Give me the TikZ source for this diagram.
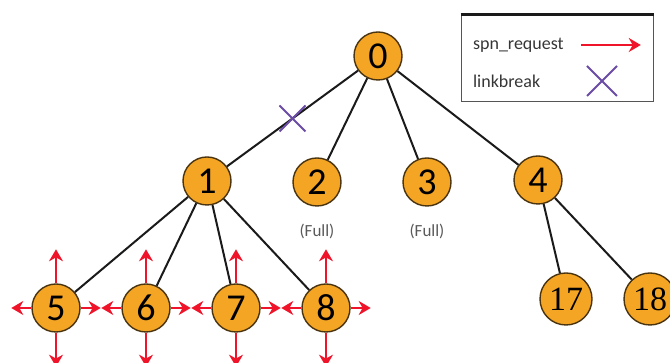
\documentclass[tikz,border=0pt]{standalone}
\usepackage{fontspec}
\setmainfont{Carlito}
\newfontfamily\leafdigits{Liberation Serif}
\usetikzlibrary{arrows.meta,positioning,shapes.misc}
\definecolor{nodefill}{HTML}{F5A524}
\definecolor{nodedraw}{HTML}{4A3410}
\definecolor{edgecolor}{HTML}{1A1A1A}
\definecolor{requestcolor}{HTML}{F0142A}
\definecolor{breakcolor}{HTML}{6A4CA6}
\definecolor{notecolor}{HTML}{5A5A5A}
\definecolor{framecolor}{HTML}{555555}
\tikzset{
  >=Stealth,
  tree node/.style={
    circle,
    draw=nodedraw,
    fill=nodefill,
    line width=0.7pt,
    minimum size=24pt,
    inner sep=0pt,
    font=\fontsize{19}{19}\selectfont
  },
  leaf node/.style={
    tree node,
    minimum size=26pt,
    font=\leafdigits\fontsize{17}{17}\selectfont
  },
  tree edge/.style={
    draw=edgecolor,
    line width=1pt
  },
  request/.style={
    draw=requestcolor,
    line width=1.4pt,
    -{Stealth[length=6pt,width=7pt]}
  },
  link break/.style={
    cross out,
    draw=breakcolor,
    line width=1pt,
    minimum size=12pt,
    inner sep=0pt
  },
  full note/.style={
    font=\fontsize{8.5}{8.5}\selectfont,
    text=notecolor
  },
  legend box/.style={
    draw=framecolor,
    line width=0.5pt,
    minimum width=96pt,
    minimum height=43.5pt,
    inner sep=0pt
  },
  legend text/.style={
    font=\fontsize{9}{9}\selectfont,
    text=notecolor!60!black,
    anchor=west
  }
}
\newcommand{\sendrequests}[1]{%
  \foreach \n in {#1}{
    \draw[request] (N-\n.north) -- ++(0,34);
    \draw[request] (N-\n.south) -- ++(0,-34);
    \draw[request] (N-\n.west) -- ++(-20,0);
    \draw[request] (N-\n.east) -- ++(20,0);
  }
}

\begin{document}
\begin{tikzpicture}[x=0.5pt,y=0.5pt]
  \useasboundingbox (0,0) rectangle (670,363);

  % tree
  \node[tree node] (N-0) at (378,307) {0};

  \node[tree node] (N-1) at (207,182) {1};
  \node[tree node] (N-2) at (317,181) {2};
  \node[tree node] (N-3) at (427,181) {3};
  \node[tree node] (N-4) at (538,183) {4};

  \node[tree node] (N-5) at (56,55) {5};
  \node[tree node] (N-6) at (146,55) {6};
  \node[tree node] (N-7) at (236,55) {7};
  \node[tree node] (N-8) at (326,55) {8};

  \node[leaf node] (N-17) at (566,64) {17};
  \node[leaf node] (N-18) at (650,64) {18};

  \node[full note, below=5pt of N-2] (F-2) {(Full)};
  \node[full note, below=5pt of N-3] (F-3) {(Full)};

  \draw[tree edge] (N-0) -- node[link break] (X-01) {} (N-1);
  \foreach \c in {2,3,4}{
    \draw[tree edge] (N-0) -- (N-\c);
  }
  \foreach \c in {5,6,7,8}{
    \draw[tree edge] (N-1) -- (N-\c);
  }
  \foreach \c in {17,18}{
    \draw[tree edge] (N-4) -- (N-\c);
  }

  \sendrequests{5,6,7,8}

  % legend
  \node[legend box] (legend) at (557,304.5) {};
  \draw[edgecolor, line width=1.3pt] (legend.north west) -- (legend.north east);
  \node[legend text] (L-spn) at (466,318) {spn\_request};
  \node[legend text] (L-break) at (466,282) {linkbreak};
  \draw[request, line width=1.1pt] ([xshift=5pt]L-spn.east) -- ++(60,0);
  \node[link break, minimum size=14pt] (L-cross) at (602,282) {};
\end{tikzpicture}
\end{document}
